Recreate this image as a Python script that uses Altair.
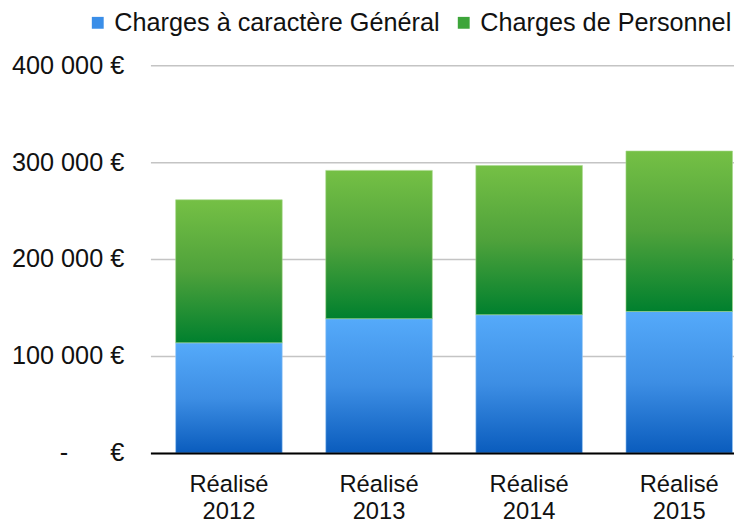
import altair as alt
import pandas as pd

years = ["2012", "2013", "2014", "2015"]
general = [113600, 138500, 142600, 145900]
personnel = [147600, 153000, 154000, 165600]
series = ["Charges à caractère Général", "Charges de Personnel"]
legend_colors = ["#3A8EE8", "#3DA53A"]

df = pd.DataFrame({
    "year": years,
    "general": general,
    "personnel": personnel,
})
df["total"] = df["general"] + df["personnel"]
df["zero"] = 0

FONT = "Liberation Sans"

xscale = alt.Scale(domain=years, range=[0, 614], paddingInner=0.29, paddingOuter=0.168)
yscale = alt.Scale(domain=[0, 400000], nice=False)

blue_grad = alt.LinearGradient(
    gradient="linear",
    stops=[
        alt.GradientStop(color="#55AAFA", offset=0),
        alt.GradientStop(color="#3D8EE4", offset=0.5),
        alt.GradientStop(color="#0A5CBD", offset=1),
    ],
    x1=0, x2=0, y1=0, y2=1,
)
green_grad = alt.LinearGradient(
    gradient="linear",
    stops=[
        alt.GradientStop(color="#75C045", offset=0),
        alt.GradientStop(color="#4FA23B", offset=0.5),
        alt.GradientStop(color="#00802E", offset=1),
    ],
    x1=0, x2=0, y1=0, y2=1,
)

base = alt.Chart(df)

blue = base.mark_bar(color=blue_grad, stroke="#9CCBF7", strokeWidth=1, strokeOpacity=0.6).encode(
    x=alt.X("year:N", scale=xscale, title=None,
            axis=alt.Axis(labelExpr="['Réalisé', datum.label]", labelFontSize=24,
                          labelFont=FONT, labelColor="#111111", labelAngle=0,
                          labelPadding=20, labelLineHeight=27, ticks=False,
                          domainColor="#000000", domainWidth=2, zindex=2)),
    y=alt.Y("zero:Q", scale=yscale, title=None,
            axis=alt.Axis(values=[0, 100000, 200000, 300000, 400000],
                          labelExpr="datum.value == 0 ? '-\u00a0\u00a0\u00a0\u00a0\u00a0\u00a0€' : format(datum.value/1000, 'd') + ' 000 €'",
                          labelFontSize=25.5, labelFont=FONT, labelColor="#111111",
                          labelPadding=27, ticks=False, domain=False,
                          gridColor="#C4C4C4", gridWidth=1.5)),
    y2="general:Q",
)

green = base.mark_bar(color=green_grad, stroke="#A8D98C", strokeWidth=1, strokeOpacity=0.6).encode(
    x=alt.X("year:N", scale=xscale),
    y=alt.Y("general:Q", scale=yscale),
    y2="total:Q",
)

leg_df = pd.DataFrame({"series": series, "year": [years[0]] * 2, "v": [0, 0]})
legend_layer = alt.Chart(leg_df).mark_square(opacity=0, size=10).encode(
    x=alt.X("year:N", scale=xscale),
    y=alt.Y("v:Q", scale=yscale),
    color=alt.Color("series:N",
                    scale=alt.Scale(domain=series, range=legend_colors),
                    legend=alt.Legend(orient="none", legendX=-66, legendY=-56,
                                      direction="horizontal", title=None,
                                      labelFontSize=25.5, labelFont=FONT, labelColor="#111111",
                                      symbolType="square", symbolSize=144,
                                      symbolOpacity=1, symbolStrokeWidth=0,
                                      labelOffset=4, columnPadding=11,
                                      labelLimit=400)),
)

chart = alt.layer(blue, green, legend_layer).properties(
    width=590, height=392,
    autosize=alt.AutoSizeParams(type="none"),
    padding={"left": 144, "top": 55, "right": 0, "bottom": 70},
).configure_view(stroke=None)

chart.save("out.html", embed_options={"renderer": "svg", "actions": False})
